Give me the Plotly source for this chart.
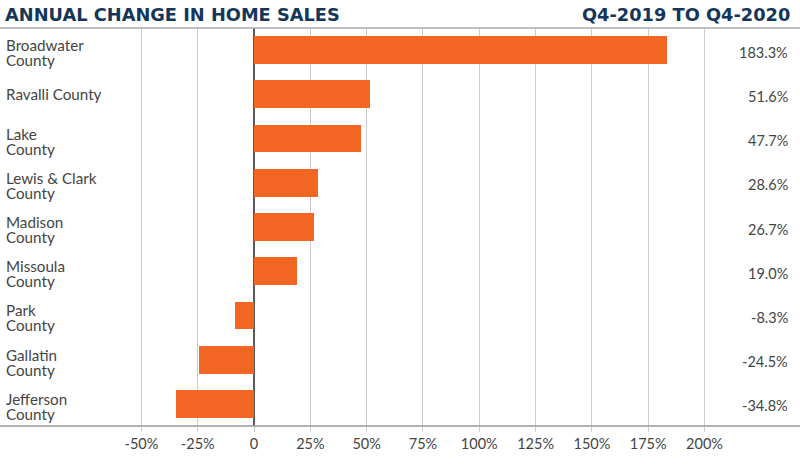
import plotly.graph_objects as go

categories = ["Broadwater<br>County", "Ravalli County", "Lake<br>County", "Lewis & Clark<br>County",
              "Madison<br>County", "Missoula<br>County", "Park<br>County", "Gallatin<br>County", "Jefferson<br>County"]
values = [183.3, 51.6, 47.7, 28.6, 26.7, 19.0, -8.3, -24.5, -34.8]
value_labels = ["183.3%", "51.6%", "47.7%", "28.6%", "26.7%", "19.0%", "-8.3%", "-24.5%", "-34.8%"]
tick_vals = [-50, -25, 0, 25, 50, 75, 100, 125, 150, 175, 200]
tick_text = ["-50%", "-25%", "0", "25%", "50%", "75%", "100%", "125%", "150%", "175%", "200%"]

BAR = "#F26522"
NAVY = "#14365A"
TXT = "#444444"
FONT = "Lato"

ypos = list(range(len(categories)))

fig = go.Figure()
fig.add_trace(go.Bar(
    x=values, y=ypos, orientation="h",
    marker=dict(color=BAR, line=dict(width=0)),
    width=0.63, hoverinfo="skip",
))

annotations = []
for i, (c, v) in enumerate(zip(categories, value_labels)):
    lines = c.split("<br>")
    if len(lines) == 1:
        shifts = [0]
    else:
        shifts = [5, -10]
    for ln, sh in zip(lines, shifts):
        annotations.append(dict(x=0.006, xref="paper", y=i, yref="y", yshift=sh, text=ln, showarrow=False,
                                xanchor="left", yanchor="middle", align="left", borderpad=0,
                                font=dict(family=FONT, size=15.2, color=TXT)))
    annotations.append(dict(x=0.988, xref="paper", y=i, yref="y", yshift=-2, text=v, showarrow=False,
                            xanchor="right", yanchor="middle", align="right",
                            font=dict(family=FONT, size=14.5, color=TXT)))

annotations.append(dict(x=0.004, xref="paper", y=1, yref="paper", yshift=1, text="ANNUAL CHANGE IN HOME SALES",
                        showarrow=False, xanchor="left", yanchor="bottom",
                        font=dict(family="DejaVu Sans", size=17.8, color=NAVY, weight="bold")))
annotations.append(dict(x=0.99, xref="paper", y=1, yref="paper", yshift=1, text="Q4-2019 TO Q4-2020",
                        showarrow=False, xanchor="right", yanchor="bottom",
                        font=dict(family="DejaVu Sans", size=17.8, color=NAVY, weight="bold")))

fig.update_layout(
    width=800, height=464,
    margin=dict(l=0, r=0, t=28, b=38),
    paper_bgcolor="white", plot_bgcolor="white",
    showlegend=False,
    bargap=0,
    xaxis=dict(range=[-112.8, 242.4], tickvals=tick_vals, ticktext=tick_text,
               showgrid=True, gridcolor="#CCCCCC", gridwidth=1,
               zeroline=True, zerolinecolor="#5A5A5A", zerolinewidth=2,
               tickfont=dict(family=FONT, size=14.5, color=TXT),
               showline=False, ticks="outside", ticklen=5, tickcolor="#CCCCCC", fixedrange=True),
    yaxis=dict(range=[8.5, -0.5], showticklabels=False, showgrid=False, zeroline=False,
               showline=False, fixedrange=True),
    annotations=annotations,
    shapes=[
        dict(type="line", xref="paper", yref="paper", x0=0, x1=1, y0=1, y1=1,
             line=dict(color="#AAAAAA", width=1.5)),
        dict(type="line", xref="paper", yref="paper", x0=0, x1=1, y0=0, y1=0,
             line=dict(color="#999999", width=1.5)),
    ],
)

fig.write_html("out.html", config={"displayModeBar": False},
               post_script="document.body.style.margin='0';document.body.style.overflow='hidden';")
